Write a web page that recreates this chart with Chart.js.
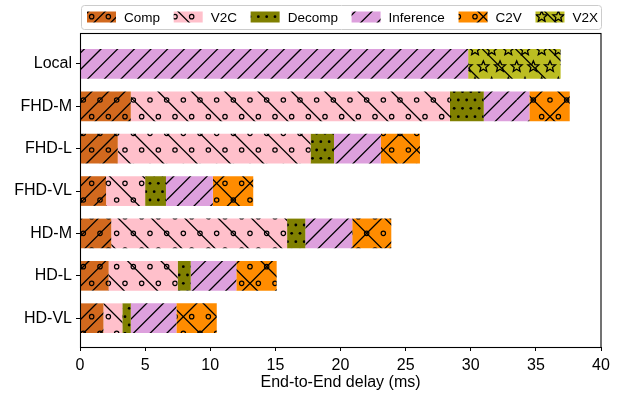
<!DOCTYPE html>
<html>
<head>
<meta charset="utf-8">
<script src="https://cdn.jsdelivr.net/npm/chart.js@4"></script>
<style>
  html, body { margin: 0; padding: 0; background: #fff; }
  canvas { display: block; }
</style>
</head>
<body>
<canvas id="chart" width="633" height="400"></canvas>
<script>
// Data (ms)
const categories = ['Local', 'FHD-M', 'FHD-L', 'FHD-VL', 'HD-M', 'HD-L', 'HD-VL'];
const comp      = [0,    3.9,  2.9,  2.0, 2.4,  2.2, 1.8];
const v2c       = [0,    24.5, 14.8, 3.0, 13.5, 5.3, 1.45];
const decomp    = [0,    2.6,  1.8,  1.6, 1.4,  1.0, 0.65];
const inference = [29.8, 3.5,  3.6,  3.6, 3.6,  3.5, 3.5];
const c2v       = [0,    3.1,  3.0,  3.1, 3.0,  3.1, 3.1];
const v2x       = [7.1,  0,    0,    0,   0,    0,   0];
const xTicks = [0, 5, 10, 15, 20, 25, 30, 35, 40];

const FONT = '"Liberation Sans", Arial, Helvetica, sans-serif';

// Hatch patterns (one tile = 100px, like a matplotlib hatch at 100 dpi)
const TILE = 100;

function hatchLines(g, n, dir) {
  const step = TILE / n;
  g.beginPath();
  for (let i = -n; i <= n; i++) {
    const x0 = i * step;
    if (dir > 0) { g.moveTo(x0, TILE); g.lineTo(x0 + TILE, 0); }
    else { g.moveTo(x0, 0); g.lineTo(x0 + TILE, TILE); }
  }
  g.stroke();
}

function hatchGrid(n, fn) {
  for (let r = 0; r <= n; r++) {
    const y = r * TILE / n;
    if (r % 2 === 0) {
      for (let k = 0; k <= n; k++) fn(k * TILE / n, y);
    } else {
      for (let k = 0; k < n; k++) fn((k + 0.5) * TILE / n, y);
    }
  }
}

function star(g, x, y, ro, ri) {
  g.beginPath();
  for (let i = 0; i < 10; i++) {
    const r = i % 2 === 0 ? ro : ri;
    const a = -Math.PI / 2 + i * Math.PI / 5;
    const px = x + r * Math.cos(a), py = y + r * Math.sin(a);
    if (i === 0) g.moveTo(px, py); else g.lineTo(px, py);
  }
  g.closePath();
  g.stroke();
}

function makePattern(bg, spec) {
  const c = document.createElement('canvas');
  c.width = TILE;
  c.height = TILE;
  const g = c.getContext('2d');
  g.fillStyle = bg;
  g.fillRect(0, 0, TILE, TILE);
  g.strokeStyle = '#000';
  g.fillStyle = '#000';
  g.lineWidth = 1.3;
  if (spec.ne) hatchLines(g, spec.ne, 1);
  if (spec.nw) hatchLines(g, spec.nw, -1);
  if (spec.cross) { hatchLines(g, spec.cross, 1); hatchLines(g, spec.cross, -1); }
  if (spec.circles) {
    g.lineWidth = 1.2;
    hatchGrid(spec.circles, (x, y) => {
      g.beginPath(); g.arc(x, y, 2.2, 0, Math.PI * 2); g.stroke();
    });
  }
  if (spec.dots) {
    hatchGrid(spec.dots, (x, y) => {
      g.beginPath(); g.arc(x, y, 1.4, 0, Math.PI * 2); g.fill();
    });
  }
  if (spec.stars) {
    g.lineWidth = 1.3;
    hatchGrid(spec.stars, (x, y) => star(g, x, y, 5.8, 2.6));
  }
  return g.createPattern(c, 'repeat');
}

const series = [
  { label: 'Comp',      values: comp,      pattern: makePattern('#D2691E', { ne: 6, circles: 6 }) },
  { label: 'V2C',       values: v2c,       pattern: makePattern('#FFC0CB', { nw: 3, circles: 6 }) },
  { label: 'Decomp',    values: decomp,    pattern: makePattern('#808000', { dots: 12 }) },
  { label: 'Inference', values: inference, pattern: makePattern('#DDA0DD', { ne: 6 }) },
  { label: 'C2V',       values: c2v,       pattern: makePattern('#FF8C00', { cross: 3, circles: 6 }) },
  { label: 'V2X',       values: v2x,       pattern: makePattern('#BCBD22', { nw: 3, stars: 6 }) }
];

// Frame around the axes + legend box above
const framePlugin = {
  id: 'frame',
  afterDraw(chart) {
    const { ctx, chartArea: a } = chart;
    ctx.save();
    ctx.strokeStyle = '#000';
    ctx.lineWidth = 1.1;
    ctx.strokeRect(Math.round(a.left) + 0.5, Math.round(a.top) + 0.5,
                   Math.round(a.right - a.left) - 0.5, Math.round(a.bottom - a.top));

    // legend (matplotlib style, expanded over the axes width)
    const sets = chart.data.datasets;
    ctx.font = '13.5px ' + FONT;
    const hw = 29, hh = 11, gapText = 8;
    const widths = sets.map(d => ctx.measureText(d.label).width);
    const used = widths.reduce((s, w) => s + w, 0) + sets.length * (hw + gapText);
    const lx = a.left + 7, rx = a.right - 3;
    const gap = (rx - lx - used) / (sets.length - 1);
    const boxTop = 5, boxH = 24, cy = boxTop + boxH / 2;

    ctx.beginPath();
    ctx.roundRect(a.left + 1.5, boxTop + 0.5, a.right - a.left - 1, boxH, 3);
    ctx.fillStyle = 'rgba(255,255,255,0.8)';
    ctx.fill();
    ctx.strokeStyle = '#cccccc';
    ctx.lineWidth = 1;
    ctx.stroke();

    let x = lx;
    sets.forEach((d, i) => {
      ctx.fillStyle = d.backgroundColor;
      ctx.fillRect(x, cy - hh / 2, hw, hh);
      x += hw + gapText;
      ctx.fillStyle = '#000';
      ctx.textBaseline = 'middle';
      ctx.textAlign = 'left';
      ctx.fillText(d.label, x, cy + 1);
      x += widths[i] + gap;
    });
    ctx.restore();
  }
};

const ctx = document.getElementById('chart').getContext('2d');
new Chart(ctx, {
  type: 'bar',
  data: {
    datasets: series.map(s => ({
      label: s.label,
      data: s.values.map((v, i) => ({ x: v, y: i })),
      backgroundColor: s.pattern,
      borderWidth: 0,
      barPercentage: 0.7,
      categoryPercentage: 1.0
    }))
  },
  options: {
    indexAxis: 'y',
    responsive: false,
    animation: false,
    layout: { padding: { top: 33, right: 32, left: 0, bottom: 0 } },
    plugins: {
      legend: { display: false },
      tooltip: { enabled: false }
    },
    scales: {
      x: {
        type: 'linear',
        stacked: true,
        min: 0,
        max: 40,
        afterBuildTicks: s => { s.ticks = xTicks.map(v => ({ value: v })); },
        afterFit: s => { s.height = 53; },
        border: { display: false },
        grid: { drawOnChartArea: false, drawTicks: true, tickLength: 4, color: '#000', lineWidth: 1 },
        ticks: { color: '#000', padding: 5, font: { family: FONT, size: 16 }, maxRotation: 0 },
        title: {
          display: true,
          text: 'End-to-End delay (ms)',
          color: '#000',
          font: { family: FONT, size: 16 },
          padding: { top: 0, bottom: 8 }
        }
      },
      y: {
        type: 'linear',
        stacked: true,
        reverse: true,
        offset: false,
        min: -0.73,
        max: 6.68,
        afterBuildTicks: s => { s.ticks = categories.map((c, i) => ({ value: i })); },
        afterFit: s => { s.width = 80; },
        border: { display: false },
        grid: { offset: false, drawOnChartArea: false, drawTicks: true, tickLength: 4, color: '#000', lineWidth: 1 },
        ticks: {
          color: '#000',
          padding: 4,
          font: { family: FONT, size: 16 },
          callback: v => categories[v]
        }
      }
    }
  },
  plugins: [framePlugin]
});
</script>
</body>
</html>
